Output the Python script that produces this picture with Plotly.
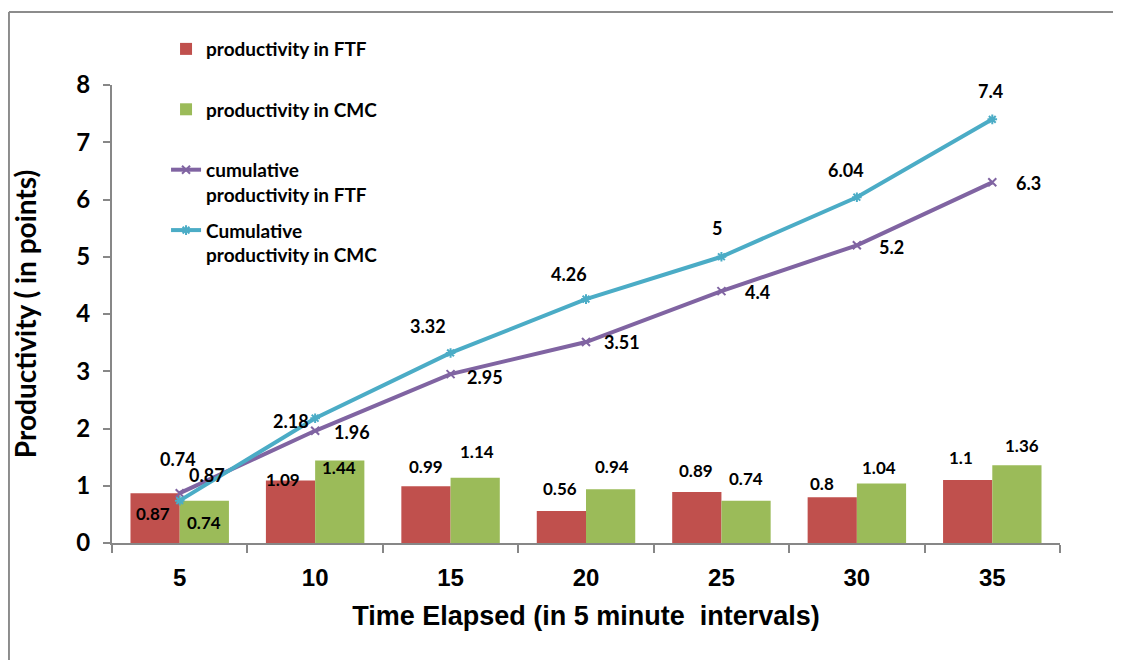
import plotly.graph_objects as go

# ---- data ----
categories = ["5", "10", "15", "20", "25", "30", "35"]
prod_ftf = [0.87, 1.09, 0.99, 0.56, 0.89, 0.8, 1.1]
prod_cmc = [0.74, 1.44, 1.14, 0.94, 0.74, 1.04, 1.36]
cum_ftf = [0.87, 1.96, 2.95, 3.51, 4.4, 5.2, 6.3]
cum_cmc = [0.74, 2.18, 3.32, 4.26, 5, 6.04, 7.4]
y_ticks = [0, 1, 2, 3, 4, 5, 6, 7, 8]

# ---- label offsets (pixels, relative to category centre / value) ----
off_ftf_bar = [(-27, -20), (-32, 1), (-25, 20), (-26, 22), (-25, 22), (-35, 14), (-31, 23)]
off_cmc_bar = [(24, -22), (24, -7), (26, 26), (26, 23), (25, 22), (22, 16), (30, 20)]
off_cum_ftf = [(27, 18), (37, -1), (34, -3), (36, 0), (36, -1), (35, -2), (36, -1)]
off_cum_cmc = [(-2, 42), (-24, -3), (-23, 27), (-17, 25), (-4, 29), (-11, 27), (-2, 28)]

RED = "#C0504D"
GREEN = "#9BBB59"
PURPLE = "#8064A2"
CYAN = "#4BACC6"
AXIS = "#878787"
CAL = "Lato, Carlito, Calibri, sans-serif"
ARIAL = "Liberation Sans, Arial, sans-serif"

fig = go.Figure()
fig.add_trace(go.Bar(x=categories, y=prod_ftf, name="<b>productivity in FTF</b><br>\u00a0",
                     marker=dict(color=RED, line=dict(width=0)), legendgroup="a"))
fig.add_trace(go.Bar(x=categories, y=prod_cmc, name="<b>productivity in CMC</b><br>\u00a0",
                     marker=dict(color=GREEN, line=dict(width=0)), legendgroup="b"))
fig.add_trace(go.Scatter(x=categories, y=cum_ftf, mode="lines+markers",
                         name="<b>cumulative<br>productivity in FTF</b>", legendgroup="c",
                         line=dict(color=PURPLE, width=4),
                         marker=dict(symbol="x-thin-open", size=8, color=PURPLE,
                                     line=dict(color=PURPLE, width=2))))
fig.add_trace(go.Scatter(x=categories, y=cum_cmc, mode="lines+markers",
                         name="<b>Cumulative<br>productivity in CMC</b>", legendgroup="d",
                         line=dict(color=CYAN, width=4),
                         marker=dict(symbol="asterisk-open", size=8, color=CYAN,
                                     line=dict(color=CYAN, width=2))))

annotations = []
def add_labels(vals, offs, size):
    for i, (v, (dx, dy)) in enumerate(zip(vals, offs)):
        annotations.append(dict(x=i, y=v, xref="x", yref="y", text=f"<b>{v:g}</b>",
                                showarrow=False, xshift=dx, yshift=dy,
                                xanchor="center", yanchor="middle",
                                font=dict(family=CAL, size=size, color="black")))

add_labels(prod_ftf, off_ftf_bar, 17)
add_labels(prod_cmc, off_cmc_bar, 17)
add_labels(cum_ftf, off_cum_ftf, 18)
add_labels(cum_cmc, off_cum_cmc, 18)

# outer chart-area border (top and left)
shapes = [
    dict(type="line", xref="paper", yref="paper", x0=-0.1087, x1=1.09, y0=1.1594, y1=1.1594,
         line=dict(color="#8C8C8C", width=2)),
    dict(type="line", xref="paper", yref="paper", x0=-0.1087, x1=-0.1087, y0=1.1594, y1=-0.3,
         line=dict(color="#8C8C8C", width=2)),
]

fig.update_layout(
    width=1105, height=652,
    margin=dict(l=104, r=53, t=77, b=117),
    paper_bgcolor="white", plot_bgcolor="white",
    barmode="group", bargap=0.273, bargroupgap=0,
    showlegend=True,
    legend=dict(x=0.057, y=1.120, xanchor="left", yanchor="top",
                font=dict(family=CAL, size=19, color="black"),
                traceorder="grouped", tracegroupgap=8, valign="top",
                bgcolor="rgba(0,0,0,0)"),
    annotations=annotations,
    shapes=shapes,
    xaxis=dict(type="category", range=[-0.5, 6.5], showline=True, linecolor=AXIS, linewidth=2,
               ticks="outside", tickson="boundaries", ticklen=8, tickcolor=AXIS, tickwidth=2,
               showgrid=False, ticklabelstandoff=12, tickangle=0,
               tickfont=dict(family=ARIAL, size=24, color="black", weight="bold"),
               title=dict(text="<b>Time Elapsed (in 5 minute  intervals)</b>",
                          font=dict(family=ARIAL, size=27, color="black"), standoff=16)),
    yaxis=dict(range=[0, 8], tickvals=y_ticks, showline=True, linecolor=AXIS, linewidth=2,
               ticks="outside", ticklen=7, tickcolor=AXIS, tickwidth=2, showgrid=False,
               zeroline=False, ticklabelstandoff=8,
               tickfont=dict(family=CAL, size=24, color="black", weight="bold"),
               title=dict(text="<b>Productivity ( in points)</b>",
                          font=dict(family=CAL, size=28, color="black"), standoff=34)),
)

fig.write_html("out.html")
